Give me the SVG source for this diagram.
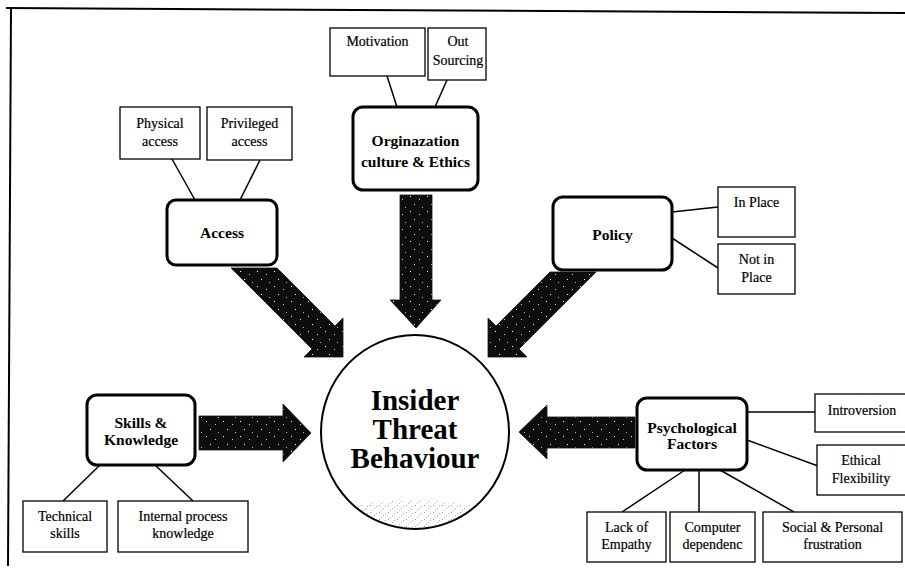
<svg xmlns="http://www.w3.org/2000/svg" width="905" height="569" viewBox="0 0 905 569">
<defs>
<pattern id="speckle" width="17" height="15" patternUnits="userSpaceOnUse">
<rect width="17" height="15" fill="#0d0d0d"/>
<rect x="2" y="1" width="1" height="1" fill="#fff"/>
<rect x="11" y="4" width="1" height="1" fill="#ccc"/>
<rect x="6" y="9" width="1" height="1" fill="#fff"/>
<rect x="14" y="12" width="1" height="1" fill="#bbb"/>
</pattern>
<pattern id="stipple" width="9" height="7" patternUnits="userSpaceOnUse">
<rect x="1" y="1" width="1" height="1" fill="#999"/>
<rect x="5" y="4" width="1" height="1" fill="#aaa"/>
<rect x="7" y="2" width="1" height="1" fill="#aaa"/>
<rect x="3" y="6" width="1" height="1" fill="#bbb"/>
</pattern>
<clipPath id="circ"><ellipse cx="415" cy="432" rx="93" ry="96"/></clipPath>
</defs>
<style>
.leaf rect{fill:#fff;stroke:#000;stroke-width:1.3}
.main rect{fill:#fff;stroke:#000;stroke-width:3}
.lt{font-family:"Liberation Serif","Times New Roman",serif;font-size:14px;fill:#000;stroke:#000;stroke-width:0.2;text-anchor:middle}
.mt{font-family:"Liberation Serif","Times New Roman",serif;font-size:15.5px;font-weight:bold;fill:#000;text-anchor:middle}
.ct{font-family:"Liberation Serif","Times New Roman",serif;font-size:29px;font-weight:bold;fill:#000;text-anchor:middle}
.ln{stroke:#000;stroke-width:1.5;fill:none}
.arr{fill:url(#speckle);stroke:#111;stroke-width:0.8}
</style>
<rect width="905" height="569" fill="#fff"/>
<g id="frame">
<path d="M6,8 L905,13" stroke="#000" stroke-width="2" fill="none"/>
<path d="M11,8 L8,566" stroke="#000" stroke-width="2" fill="none"/>
</g>
<g id="connectors">
<line class="ln" x1="172" y1="159" x2="195" y2="200"/>
<line class="ln" x1="260" y1="160" x2="240" y2="200"/>
<line class="ln" x1="387" y1="76" x2="397" y2="107"/>
<line class="ln" x1="447" y1="80" x2="435" y2="107"/>
<line class="ln" x1="672" y1="212" x2="718" y2="207"/>
<line class="ln" x1="672" y1="238" x2="718" y2="268"/>
<line class="ln" x1="63" y1="501" x2="100" y2="465"/>
<line class="ln" x1="193" y1="501" x2="155" y2="465"/>
<line class="ln" x1="747" y1="412" x2="815" y2="412"/>
<line class="ln" x1="747" y1="440" x2="818" y2="466"/>
<line class="ln" x1="685" y1="470" x2="622" y2="512"/>
<line class="ln" x1="699" y1="470" x2="699" y2="512"/>
<line class="ln" x1="720" y1="470" x2="794" y2="512"/>
<polygon class="arr" points="231,268 277,268 335,326 343,318 343,357 304,357 312,349"/>
<polygon class="arr" points="400,195 432,195 432,300 441,300 416,328 390,300 400,300"/>
<polygon class="arr" points="550,272 596,272 519,349 527,357 488,357 488,318 496,326"/>
<polygon class="arr" points="199,416 283,416 283,404 311,433 283,462 283,450 199,450"/>
<polygon class="arr" points="635,417 547,417 547,405 519,432 547,459 547,448 635,448"/>
</g>
<g id="insider-threat">
<ellipse cx="415" cy="432" rx="94" ry="97" fill="#fff" stroke="#000" stroke-width="2"/>
<ellipse cx="415" cy="522" rx="85" ry="22" fill="url(#stipple)" clip-path="url(#circ)"/>
<text class="ct" x="415" y="410">Insider</text>
<text class="ct" x="415" y="439">Threat</text>
<text class="ct" x="415" y="468">Behaviour</text>
</g>
<g id="physical-access" class="leaf"><rect x="120" y="107" width="80" height="52"/><text class="lt" x="160" y="128">Physical</text><text class="lt" x="160" y="146">access</text></g>
<g id="privileged-access" class="leaf"><rect x="207" y="107" width="85" height="53"/><text class="lt" x="249.5" y="128">Privileged</text><text class="lt" x="249.5" y="146">access</text></g>
<g id="access" class="main"><rect x="167" y="200" width="110" height="65" rx="9"/><text class="mt" x="222" y="238">Access</text></g>
<g id="motivation" class="leaf"><rect x="330" y="28" width="95" height="48"/><text class="lt" x="377.5" y="46">Motivation</text></g>
<g id="out-sourcing" class="leaf"><rect x="428" y="28" width="58" height="52"/><text class="lt" x="458" y="46">Out</text><text class="lt" x="458" y="65">Sourcing</text></g>
<g id="org-culture" class="main"><rect x="353" y="107" width="125" height="83" rx="10"/><text class="mt" x="415.5" y="146">Orginazation</text><text class="mt" x="415.5" y="167">culture &amp; Ethics</text></g>
<g id="policy" class="main"><rect x="553" y="197" width="119" height="73" rx="10"/><text class="mt" x="612.5" y="240">Policy</text></g>
<g id="in-place" class="leaf"><rect x="718" y="187" width="77" height="50"/><text class="lt" x="756.5" y="207">In Place</text></g>
<g id="not-in-place" class="leaf"><rect x="718" y="244" width="77" height="50"/><text class="lt" x="756.5" y="264">Not in</text><text class="lt" x="756.5" y="282">Place</text></g>
<g id="skills" class="main"><rect x="87" y="395" width="108" height="70" rx="10"/><text class="mt" x="141" y="428">Skills &amp;</text><text class="mt" x="141" y="445">Knowledge</text></g>
<g id="technical-skills" class="leaf"><rect x="23" y="501" width="84" height="51"/><text class="lt" x="65" y="521">Technical</text><text class="lt" x="65" y="538">skills</text></g>
<g id="internal-process" class="leaf"><rect x="118" y="501" width="130" height="51"/><text class="lt" x="183" y="521">Internal process</text><text class="lt" x="183" y="538">knowledge</text></g>
<g id="psychological" class="main"><rect x="637" y="398" width="110" height="72" rx="10"/><text class="mt" x="692" y="433">Psychological</text><text class="mt" x="692" y="449">Factors</text></g>
<g id="introversion" class="leaf"><rect x="815" y="394" width="95" height="38"/><text class="lt" x="862" y="415">Introversion</text></g>
<g id="ethical-flexibility" class="leaf"><rect x="817" y="445" width="93" height="50"/><text class="lt" x="861" y="465">Ethical</text><text class="lt" x="861" y="483">Flexibility</text></g>
<g id="lack-empathy" class="leaf"><rect x="587" y="512" width="79" height="50"/><text class="lt" x="626.5" y="532">Lack of</text><text class="lt" x="626.5" y="549">Empathy</text></g>
<g id="computer-dependence" class="leaf"><rect x="670" y="512" width="85" height="50"/><text class="lt" x="712.5" y="532">Computer</text><text class="lt" x="712.5" y="549">dependenc</text></g>
<g id="social-personal" class="leaf"><rect x="763" y="512" width="139" height="50"/><text class="lt" x="832.5" y="532">Social &amp; Personal</text><text class="lt" x="832.5" y="549">frustration</text></g>
</svg>
